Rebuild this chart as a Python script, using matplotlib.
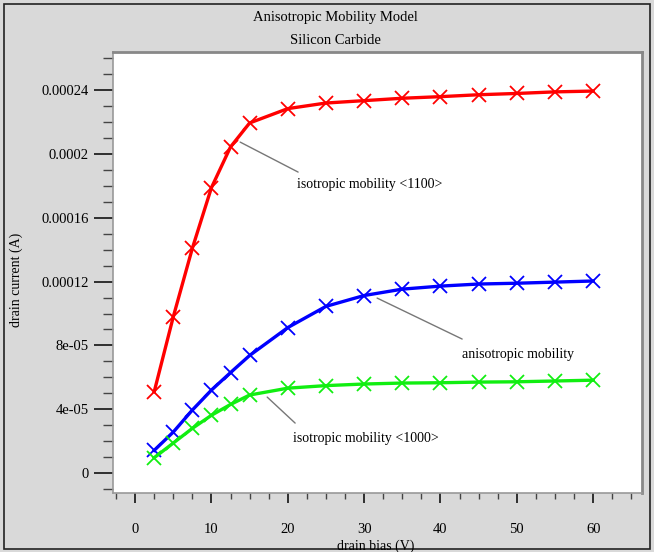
import matplotlib
matplotlib.use("Agg")
import matplotlib.pyplot as plt
from matplotlib.ticker import MultipleLocator, FixedLocator, FuncFormatter
from matplotlib.patches import Rectangle

drain_bias = [2.5, 5, 7.5, 10, 12.5, 15, 20, 25, 30, 35, 40, 45, 50, 55, 60]
iso_1100 = [5.1e-5, 9.8e-5, 1.41e-4, 1.79e-4, 2.045e-4, 2.195e-4, 2.285e-4, 2.32e-4,
            2.335e-4, 2.35e-4, 2.36e-4, 2.372e-4, 2.38e-4, 2.39e-4, 2.395e-4]
aniso = [1.42e-5, 2.57e-5, 3.95e-5, 5.2e-5, 6.3e-5, 7.37e-5, 9.12e-5, 1.045e-4,
         1.113e-4, 1.153e-4, 1.172e-4, 1.185e-4, 1.19e-4, 1.197e-4, 1.204e-4]
iso_1000 = [9.6e-6, 1.88e-5, 2.8e-5, 3.62e-5, 4.3e-5, 4.89e-5, 5.32e-5, 5.48e-5,
            5.58e-5, 5.64e-5, 5.66e-5, 5.7e-5, 5.72e-5, 5.77e-5, 5.82e-5]
y_ticks = [0, 4e-5, 8e-5, 1.2e-4, 1.6e-4, 2e-4, 2.4e-4]
y_tick_labels = ["0", "4e-05", "8e-05", "0.00012", "0.00016", "0.0002", "0.00024"]
x_ticks = [0, 10, 20, 30, 40, 50, 60]

plt.rcParams['font.family'] = ['Liberation Serif', 'DejaVu Serif']

bg = '#d9d9d9'
fig = plt.figure(figsize=(6.54, 5.52), dpi=100, facecolor=bg)
ax = fig.add_axes([113/654, 1-493/552, (642-113)/654, (493-52)/552])
ax.set_facecolor('white')

ax.plot(drain_bias, iso_1100, color='#ff0000', lw=2.4, marker='x', ms=10, mew=1.3)
ax.plot(drain_bias, aniso, color='#0000ff', lw=2.4, marker='x', ms=10, mew=1.3)
ax.plot(drain_bias, iso_1000, color='#11ee11', lw=2.4, marker='x', ms=10, mew=1.3)

ax.set_xlim(-2.9, 66.4)
ax.set_ylim(-1.254e-5, 2.64e-4)

ax.yaxis.set_major_locator(FixedLocator(y_ticks))
ax.set_yticklabels(y_tick_labels)
ax.yaxis.set_minor_locator(MultipleLocator(1e-5))
ax.xaxis.set_major_locator(FixedLocator(x_ticks))
ax.xaxis.set_minor_locator(MultipleLocator(2.5))

ax.tick_params(axis='y', which='major', length=13.5, width=1.3, pad=4, labelsize=10.5, color='#222222')
ax.tick_params(axis='y', which='minor', length=7, width=1.0, color='#444444')
ax.tick_params(axis='x', which='major', length=7.5, width=1.3, pad=14, labelsize=10.5, color='#222222')
ax.tick_params(axis='x', which='minor', length=4, width=1.0, color='#444444')

for s in ['left', 'bottom']:
    ax.spines[s].set_color('#999999')
    ax.spines[s].set_linewidth(1.2)
for s in ['top', 'right']:
    ax.spines[s].set_color('#888888')
    ax.spines[s].set_linewidth(2.0)

lp = dict(arrowstyle='-', color='#777777', lw=1.0, shrinkA=0, shrinkB=0)
ax.annotate('', xy=(13.76, 2.075e-4), xytext=(21.35, 1.887e-4), arrowprops=lp)
ax.text(21.2, 1.806e-4, 'isotropic mobility <1100>', fontsize=10, va='center', ha='left')
ax.annotate('', xy=(31.7, 1.097e-4), xytext=(42.84, 8.4e-5), arrowprops=lp)
ax.text(42.84, 7.4e-5, 'anisotropic mobility', fontsize=10, va='center', ha='left')
ax.annotate('', xy=(17.3, 4.76e-5), xytext=(20.96, 3.13e-5), arrowprops=lp)
ax.text(20.7, 2.19e-5, 'isotropic mobility <1000>', fontsize=10, va='center', ha='left')

fig.text(335/654, 1-17/552, 'Anisotropic Mobility Model', ha='center', va='center', fontsize=10.5)
fig.text(335/654, 1-40/552, 'Silicon Carbide', ha='center', va='center', fontsize=10.5)
fig.text(16/654, 1-280/552, 'drain current (A)', ha='center', va='center', rotation=90, fontsize=10)
fig.text(376/654, 1-546/552, 'drain bias (V)', ha='center', va='center', fontsize=10)

fig.patches.append(Rectangle((4/654, 3/552), (650-4)/654, (548-3)/552, transform=fig.transFigure,
                             fill=False, edgecolor='#222222', lw=1.2))

fig.savefig('out.png', dpi=100, facecolor=bg)
